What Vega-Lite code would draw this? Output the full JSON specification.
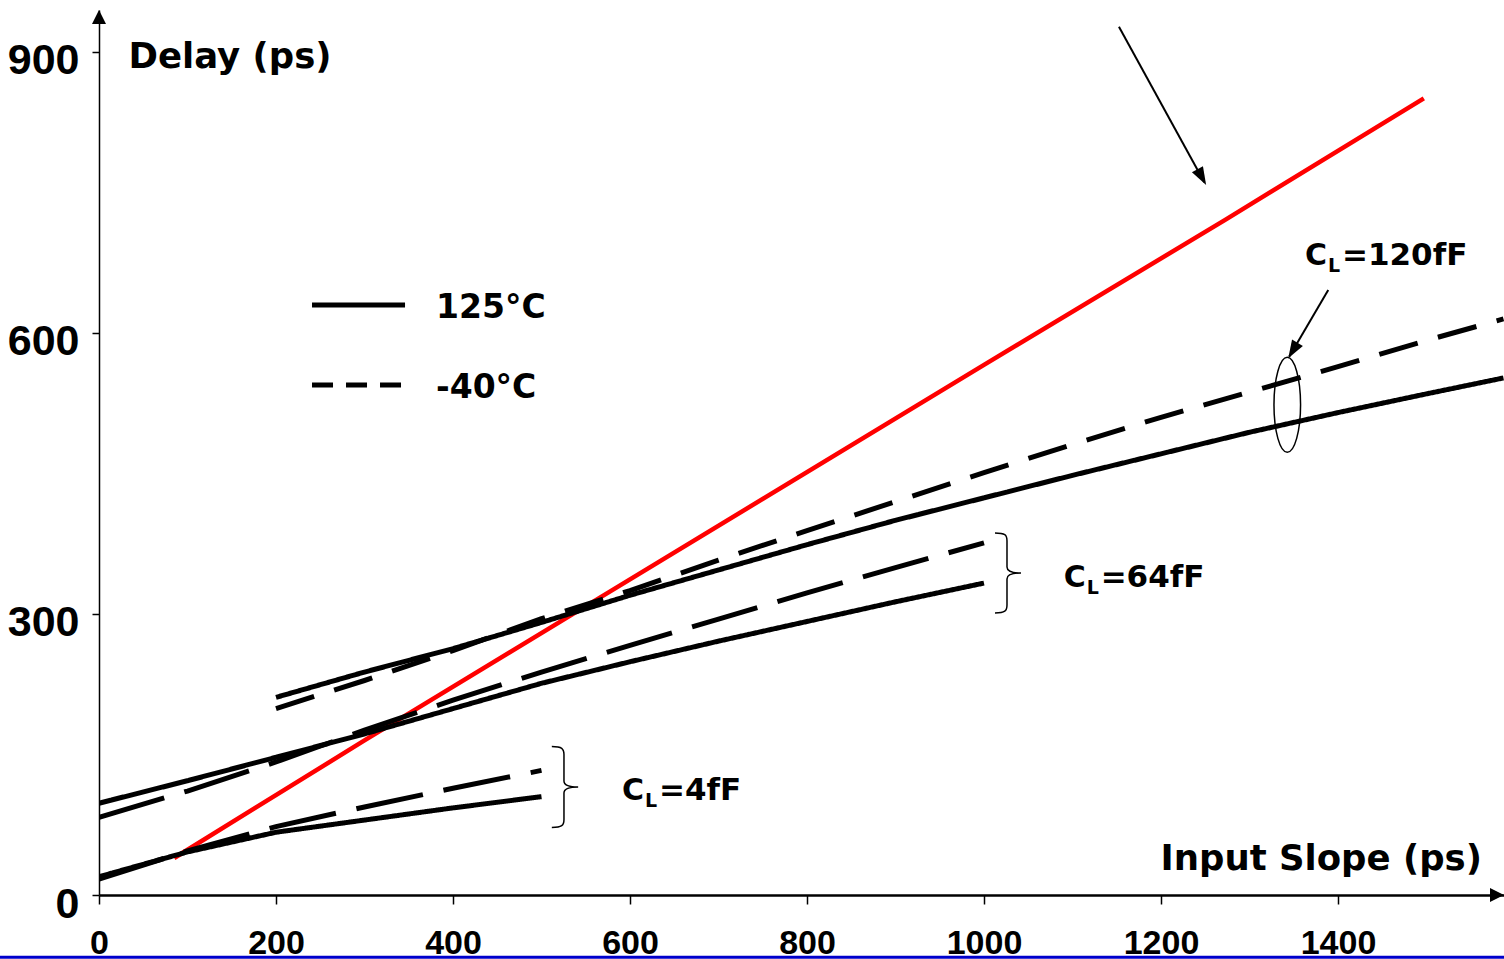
{
  "$schema": "https://vega.github.io/schema/vega-lite/v6.json",
  "width": 1405,
  "height": 885,
  "autosize": {"type": "none"},
  "padding": {"left": 99, "top": 10, "right": 0, "bottom": 64},
  "background": "white",
  "config": {"view": {"stroke": null}},
  "datasets": {
    "curves": [
      {"series": "4fF 125°C", "slope": 0, "delay": 19.5},
      {"series": "4fF 125°C", "slope": 100, "delay": 46},
      {"series": "4fF 125°C", "slope": 200, "delay": 67},
      {"series": "4fF 125°C", "slope": 300, "delay": 80},
      {"series": "4fF 125°C", "slope": 400, "delay": 93},
      {"series": "4fF 125°C", "slope": 500, "delay": 105},
      {"series": "4fF -40°C", "slope": 0, "delay": 17},
      {"series": "4fF -40°C", "slope": 100, "delay": 47},
      {"series": "4fF -40°C", "slope": 200, "delay": 73},
      {"series": "4fF -40°C", "slope": 300, "delay": 94},
      {"series": "4fF -40°C", "slope": 400, "delay": 114},
      {"series": "4fF -40°C", "slope": 500, "delay": 133},
      {"series": "64fF 125°C", "slope": 0, "delay": 98},
      {"series": "64fF 125°C", "slope": 100, "delay": 122},
      {"series": "64fF 125°C", "slope": 200, "delay": 147},
      {"series": "64fF 125°C", "slope": 300, "delay": 172},
      {"series": "64fF 125°C", "slope": 400, "delay": 199},
      {"series": "64fF 125°C", "slope": 500, "delay": 226},
      {"series": "64fF 125°C", "slope": 600, "delay": 249},
      {"series": "64fF 125°C", "slope": 700, "delay": 271},
      {"series": "64fF 125°C", "slope": 800, "delay": 292},
      {"series": "64fF 125°C", "slope": 900, "delay": 313},
      {"series": "64fF 125°C", "slope": 1000, "delay": 333},
      {"series": "64fF -40°C", "slope": 0, "delay": 83},
      {"series": "64fF -40°C", "slope": 100, "delay": 111},
      {"series": "64fF -40°C", "slope": 200, "delay": 142},
      {"series": "64fF -40°C", "slope": 300, "delay": 176},
      {"series": "64fF -40°C", "slope": 400, "delay": 208},
      {"series": "64fF -40°C", "slope": 500, "delay": 238},
      {"series": "64fF -40°C", "slope": 600, "delay": 266.5},
      {"series": "64fF -40°C", "slope": 700, "delay": 294.5},
      {"series": "64fF -40°C", "slope": 800, "delay": 322.5},
      {"series": "64fF -40°C", "slope": 900, "delay": 349.5},
      {"series": "64fF -40°C", "slope": 1000, "delay": 376},
      {"series": "120fF 125°C", "slope": 200, "delay": 211},
      {"series": "120fF 125°C", "slope": 300, "delay": 238},
      {"series": "120fF 125°C", "slope": 400, "delay": 263},
      {"series": "120fF 125°C", "slope": 500, "delay": 291},
      {"series": "120fF 125°C", "slope": 600, "delay": 320},
      {"series": "120fF 125°C", "slope": 700, "delay": 347},
      {"series": "120fF 125°C", "slope": 800, "delay": 374},
      {"series": "120fF 125°C", "slope": 900, "delay": 400},
      {"series": "120fF 125°C", "slope": 1000, "delay": 424},
      {"series": "120fF 125°C", "slope": 1100, "delay": 448},
      {"series": "120fF 125°C", "slope": 1200, "delay": 471},
      {"series": "120fF 125°C", "slope": 1300, "delay": 494},
      {"series": "120fF 125°C", "slope": 1400, "delay": 515},
      {"series": "120fF 125°C", "slope": 1500, "delay": 535},
      {"series": "120fF 125°C", "slope": 1587, "delay": 552},
      {"series": "120fF -40°C", "slope": 200, "delay": 199},
      {"series": "120fF -40°C", "slope": 300, "delay": 229},
      {"series": "120fF -40°C", "slope": 400, "delay": 261},
      {"series": "120fF -40°C", "slope": 500, "delay": 295},
      {"series": "120fF -40°C", "slope": 600, "delay": 325},
      {"series": "120fF -40°C", "slope": 700, "delay": 357.5},
      {"series": "120fF -40°C", "slope": 800, "delay": 389},
      {"series": "120fF -40°C", "slope": 900, "delay": 420},
      {"series": "120fF -40°C", "slope": 1000, "delay": 451},
      {"series": "120fF -40°C", "slope": 1100, "delay": 481},
      {"series": "120fF -40°C", "slope": 1200, "delay": 510},
      {"series": "120fF -40°C", "slope": 1300, "delay": 537},
      {"series": "120fF -40°C", "slope": 1400, "delay": 564},
      {"series": "120fF -40°C", "slope": 1500, "delay": 592},
      {"series": "120fF -40°C", "slope": 1587, "delay": 615}
    ],
    "red": [
      {"slope": 85, "delay": 39.5},
      {"slope": 300, "delay": 165},
      {"slope": 525, "delay": 294},
      {"slope": 1000, "delay": 566},
      {"slope": 1273, "delay": 721},
      {"slope": 1497, "delay": 850.5}
    ]
  },
  "layer": [
    {
      "data": {"name": "curves"},
      "mark": {"type": "line", "color": "black", "strokeWidth": 5, "clip": true, "opacity": 0},
      "encoding": {
        "x": {
          "field": "slope", "type": "quantitative",
          "scale": {"domain": [0, 1587.6], "nice": false, "zero": false},
          "axis": {
            "values": [0, 200, 400, 600, 800, 1000, 1200, 1400],
            "format": "d",
            "title": "Input Slope (ps)",
            "titleX": 1061, "titleY": -26, "titleAlign": "left", "titleBaseline": "alphabetic",
            "titleFont": "DejaVu Sans", "titleFontWeight": "bold", "titleFontSize": 35.5, "titleColor": "black",
            "grid": false, "domainColor": "black", "domainWidth": 2.5,
            "tickColor": "black", "tickWidth": 1.5, "tickSize": 9,
            "labelFont": "Liberation Sans Narrow, Arial Narrow, Liberation Sans", "labelFontWeight": "bold",
            "labelFontSize": 34, "labelColor": "black", "labelPadding": 22, "labelBaseline": "top",
            "labelFlush": false, "labelOverlap": false
          }
        },
        "y": {
          "field": "delay", "type": "quantitative",
          "scale": {"domain": [0, 944.8], "nice": false, "zero": false},
          "axis": {
            "values": [0, 300, 600, 900],
            "format": "d",
            "title": "Delay (ps)",
            "titleX": 29, "titleY": 57, "titleAngle": 0, "titleAlign": "left", "titleBaseline": "alphabetic",
            "titleFont": "DejaVu Sans", "titleFontWeight": "bold", "titleFontSize": 35.5, "titleColor": "black",
            "grid": false, "domainColor": "black", "domainWidth": 1.5,
            "tickColor": "black", "tickWidth": 1.5, "tickSize": 7,
            "labelFont": "Liberation Sans Narrow, Arial Narrow, Liberation Sans", "labelFontWeight": "bold",
            "labelFontSize": 43, "labelColor": "black", "labelPadding": 13, "labelOffset": 9,
            "labelFlush": false, "labelOverlap": false
          }
        },
        "detail": {"field": "series"}
      }
    },
    {
      "data": {"values": [{}]},
      "mark": {"type": "rule", "color": "#0000CC", "strokeWidth": 3, "clip": false},
      "encoding": {
        "x": {"datum": -115, "type": "quantitative"},
        "x2": {"datum": 1590},
        "y": {"datum": -66.5, "type": "quantitative"}
      }
    },
    {
      "data": {"name": "red"},
      "mark": {"type": "line", "color": "#FF0000", "strokeWidth": 4.5},
      "encoding": {
        "x": {"field": "slope", "type": "quantitative", "title": "Input Slope (ps)"},
        "y": {"field": "delay", "type": "quantitative", "title": "Delay (ps)"}
      }
    },
    {
      "data": {"name": "curves"},
      "mark": {"type": "line", "color": "black", "strokeWidth": 5, "clip": true},
      "encoding": {
        "x": {"field": "slope", "type": "quantitative", "title": "Input Slope (ps)"},
        "y": {"field": "delay", "type": "quantitative", "title": "Delay (ps)"},
        "detail": {"field": "series"},
        "strokeDash": {
          "field": "series", "type": "nominal", "legend": null,
          "scale": {
            "domain": ["4fF 125°C", "4fF -40°C", "64fF 125°C", "64fF -40°C", "120fF 125°C", "120fF -40°C"],
            "range": [[1, 0], [68, 21], [1, 0], [68, 21], [1, 0], [40, 21]]
          }
        }
      }
    },
    {
      "data": {"values": [{}]},
      "mark": {"type": "point", "shape": "M0,0L-0.5,1L0.5,1Z", "filled": true, "color": "black", "opacity": 1, "size": 784, "strokeWidth": 0, "clip": false},
      "encoding": {
        "x": {"datum": 0, "type": "quantitative"},
        "y": {"datum": 944.8, "type": "quantitative"}
      }
    },
    {
      "data": {"values": [{}]},
      "mark": {"type": "point", "shape": "M0,0L-1,-0.5L-1,0.5Z", "filled": true, "color": "black", "opacity": 1, "size": 784, "strokeWidth": 0, "clip": false},
      "encoding": {
        "x": {"datum": 1587.6, "type": "quantitative"},
        "y": {"datum": 0, "type": "quantitative"}
      }
    },
    {
      "data": {"values": [{}]},
      "mark": {"type": "rule", "color": "black", "strokeWidth": 5},
      "encoding": {
        "x": {"datum": 240.7, "type": "quantitative"},
        "x2": {"datum": 345.8},
        "y": {"datum": 629.9, "type": "quantitative"}
      }
    },
    {
      "data": {"values": [{}]},
      "mark": {"type": "rule", "color": "black", "strokeWidth": 5, "strokeDash": [21, 13]},
      "encoding": {
        "x": {"datum": 240.7, "type": "quantitative"},
        "x2": {"datum": 345.8},
        "y": {"datum": 544.5, "type": "quantitative"}
      }
    },
    {
      "data": {"values": [{}]},
      "mark": {"type": "text", "text": "125°C", "font": "DejaVu Sans", "fontWeight": "bold", "fontSize": 33, "align": "left", "baseline": "alphabetic", "color": "black"},
      "encoding": {
        "x": {"datum": 380.8, "type": "quantitative"},
        "y": {"datum": 616, "type": "quantitative"}
      }
    },
    {
      "data": {"values": [{}]},
      "mark": {"type": "text", "text": "-40°C", "font": "DejaVu Sans", "fontWeight": "bold", "fontSize": 33, "align": "left", "baseline": "alphabetic", "color": "black"},
      "encoding": {
        "x": {"datum": 380.8, "type": "quantitative"},
        "y": {"datum": 530.2, "type": "quantitative"}
      }
    },
    {
      "data": {"values": [{}]},
      "mark": {"type": "rule", "color": "black", "strokeWidth": 2},
      "encoding": {
        "x": {"datum": 1152.5, "type": "quantitative"},
        "x2": {"datum": 1249},
        "y": {"datum": 926.9, "type": "quantitative"},
        "y2": {"datum": 761}
      }
    },
    {
      "data": {"values": [{}]},
      "mark": {"type": "point", "shape": "M0,0L-0.35,-1L0.35,-1Z", "filled": true, "color": "black", "opacity": 1, "size": 1296, "strokeWidth": 0, "angle": -28.8},
      "encoding": {
        "x": {"datum": 1251, "type": "quantitative"},
        "y": {"datum": 758, "type": "quantitative"}
      }
    },
    {
      "data": {"values": [{}]},
      "mark": {"type": "rule", "color": "black", "strokeWidth": 2},
      "encoding": {
        "x": {"datum": 1389, "type": "quantitative"},
        "x2": {"datum": 1345},
        "y": {"datum": 646, "type": "quantitative"},
        "y2": {"datum": 575}
      }
    },
    {
      "data": {"values": [{}]},
      "mark": {"type": "point", "shape": "M0,0L-0.35,-1L0.35,-1Z", "filled": true, "color": "black", "opacity": 1, "size": 1296, "strokeWidth": 0, "angle": 30.8},
      "encoding": {
        "x": {"datum": 1343.8, "type": "quantitative"},
        "y": {"datum": 573, "type": "quantitative"}
      }
    },
    {
      "data": {"values": [{}]},
      "mark": {"type": "point", "shape": "M0,-1A0.28,1,0,1,1,0,1A0.28,1,0,1,1,0,-1Z", "filled": false, "color": "black", "opacity": 1, "size": 9025, "strokeWidth": 1.5},
      "encoding": {
        "x": {"datum": 1342.7, "type": "quantitative"},
        "y": {"datum": 523.3, "type": "quantitative"}
      }
    },
    {
      "data": {"values": [{}]},
      "mark": {"type": "point", "shape": "M-0.3,-1C-0.05,-1,0,-0.95,0,-0.8L0,-0.15C0,-0.05,0.1,0,0.35,0C0.1,0,0,0.05,0,0.15L0,0.8C0,0.95,-0.05,1,-0.3,1", "filled": false, "color": "black", "opacity": 1, "size": 6561, "strokeWidth": 1.5},
      "encoding": {
        "x": {"datum": 525.4, "type": "quantitative"},
        "y": {"datum": 115.3, "type": "quantitative"}
      }
    },
    {
      "data": {"values": [{}]},
      "mark": {"type": "point", "shape": "M-0.3,-1C-0.05,-1,0,-0.95,0,-0.8L0,-0.15C0,-0.05,0.1,0,0.35,0C0.1,0,0,0.05,0,0.15L0,0.8C0,0.95,-0.05,1,-0.3,1", "filled": false, "color": "black", "opacity": 1, "size": 6400, "strokeWidth": 1.5},
      "encoding": {
        "x": {"datum": 1026, "type": "quantitative"},
        "y": {"datum": 343.8, "type": "quantitative"}
      }
    },
    {
      "data": {"values": [{}]},
      "encoding": {
        "x": {"datum": 591, "type": "quantitative"},
        "y": {"datum": 101.4, "type": "quantitative"}
      },
      "layer": [
        {"mark": {"type": "text", "text": "C", "font": "DejaVu Sans", "fontWeight": "bold", "fontSize": 30, "align": "left", "baseline": "alphabetic", "color": "black"}},
        {"mark": {"type": "text", "text": "L", "font": "DejaVu Sans", "fontWeight": "bold", "fontSize": 19, "align": "left", "baseline": "alphabetic", "color": "black", "dx": 23, "dy": 7}},
        {"mark": {"type": "text", "text": "=4fF", "font": "DejaVu Sans", "fontWeight": "bold", "fontSize": 31, "align": "left", "baseline": "alphabetic", "color": "black", "dx": 37}}
      ]
    },
    {
      "data": {"values": [{}]},
      "encoding": {
        "x": {"datum": 1090, "type": "quantitative"},
        "y": {"datum": 328.8, "type": "quantitative"}
      },
      "layer": [
        {"mark": {"type": "text", "text": "C", "font": "DejaVu Sans", "fontWeight": "bold", "fontSize": 30, "align": "left", "baseline": "alphabetic", "color": "black"}},
        {"mark": {"type": "text", "text": "L", "font": "DejaVu Sans", "fontWeight": "bold", "fontSize": 19, "align": "left", "baseline": "alphabetic", "color": "black", "dx": 23, "dy": 7}},
        {"mark": {"type": "text", "text": "=64fF", "font": "DejaVu Sans", "fontWeight": "bold", "fontSize": 31, "align": "left", "baseline": "alphabetic", "color": "black", "dx": 37}}
      ]
    },
    {
      "data": {"values": [{}]},
      "encoding": {
        "x": {"datum": 1362.7, "type": "quantitative"},
        "y": {"datum": 672.6, "type": "quantitative"}
      },
      "layer": [
        {"mark": {"type": "text", "text": "C", "font": "DejaVu Sans", "fontWeight": "bold", "fontSize": 30, "align": "left", "baseline": "alphabetic", "color": "black"}},
        {"mark": {"type": "text", "text": "L", "font": "DejaVu Sans", "fontWeight": "bold", "fontSize": 19, "align": "left", "baseline": "alphabetic", "color": "black", "dx": 23, "dy": 7}},
        {"mark": {"type": "text", "text": "=120fF", "font": "DejaVu Sans", "fontWeight": "bold", "fontSize": 31, "align": "left", "baseline": "alphabetic", "color": "black", "dx": 37}}
      ]
    }
  ]
}
